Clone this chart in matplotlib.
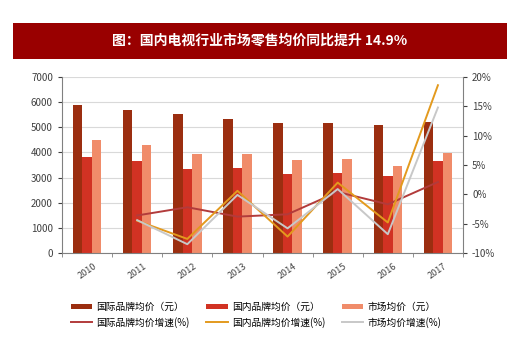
import numpy as np
import matplotlib
matplotlib.use('Agg')
import matplotlib.pyplot as plt
from matplotlib.patches import Rectangle
from matplotlib.ticker import FuncFormatter

plt.rcParams['font.family'] = ['Noto Sans CJK SC', 'DejaVu Sans']

# data
years = ['2010', '2011', '2012', '2013', '2014', '2015', '2016', '2017']
intl_price = [5880, 5680, 5540, 5320, 5170, 5190, 5090, 5220]
dom_price = [3800, 3640, 3360, 3390, 3150, 3200, 3070, 3640]
mkt_price = [4500, 4310, 3950, 3920, 3710, 3730, 3480, 3990]
# growth (%), from 2011 on
growth_years = years[1:]
intl_growth = [-3.6, -2.2, -3.8, -3.4, 0.4, -1.7, 2.1]
dom_growth = [-4.5, -7.6, 0.6, -7.2, 2.0, -4.8, 18.6]
mkt_growth = [-4.4, -8.5, -0.1, -5.8, 0.9, -6.8, 14.8]

c_intl = '#9B2E10'
c_dom = '#D13223'
c_mkt = '#F08C6A'
c_intl_g = '#B23B3B'
c_dom_g = '#E39A1E'
c_mkt_g = '#C8C8C8'

fig = plt.figure(figsize=(5.2, 3.51), dpi=100)

# title banner
fig.patches.append(Rectangle((13 / 520, 1 - 59 / 351), 494 / 520, 36 / 351,
                             transform=fig.transFigure, facecolor='#990000',
                             edgecolor='none'))
fig.text(0.5, 1 - 41 / 351, '图：国内电视行业市场零售均价同比提升 14.9%',
         color='white', fontsize=10, fontweight='bold', ha='center', va='center')

ax = fig.add_axes([62 / 520, 1 - 253 / 351, 401 / 520, 176 / 351])
x = np.arange(len(years))
w = 0.19
ax.bar(x - w, intl_price, w, color=c_intl, label='国际品牌均价（元）', zorder=2)
ax.bar(x, dom_price, w, color=c_dom, label='国内品牌均价（元）', zorder=2)
ax.bar(x + w, mkt_price, w, color=c_mkt, label='市场均价（元）', zorder=2)

ax.set_xlim(-0.5, len(years) - 0.5)
ax.set_ylim(0, 7000)
ax.set_yticks(range(0, 7001, 1000))
ax.grid(axis='y', color='#D9D9D9', linewidth=0.8, zorder=0)
ax.set_axisbelow(True)
ax.set_xticks(x)
ax.set_xticklabels(years, rotation=35, fontsize=6.5, color='#404040')
ax.set_xticks(np.arange(-0.5, len(years)), minor=True)
ax.tick_params(axis='x', which='major', length=0, pad=6)
ax.tick_params(axis='x', which='minor', length=3, color='#808080')
ax.tick_params(axis='y', labelsize=7, colors='#404040', length=3)
for s in ['top', 'right']:
    ax.spines[s].set_visible(False)
ax.spines['left'].set_color('#808080')
ax.spines['bottom'].set_color('#808080')

ax2 = ax.twinx()
gx = x[1:]
ax2.plot(gx, intl_growth, color=c_intl_g, linewidth=1.4, label='国际品牌均价增速(%)')
ax2.plot(gx, dom_growth, color=c_dom_g, linewidth=1.4, label='国内品牌均价增速(%)')
ax2.plot(gx, mkt_growth, color=c_mkt_g, linewidth=1.4, label='市场均价增速(%)')
ax2.set_ylim(-10, 20)
ax2.set_yticks(range(-10, 21, 5))
ax2.yaxis.set_major_formatter(FuncFormatter(lambda v, p: f'{int(v)}%'))
ax2.tick_params(axis='y', labelsize=7, colors='#404040', length=3)
for s in ['top', 'left', 'bottom']:
    ax2.spines[s].set_visible(False)
ax2.spines['right'].set_color('#808080')

h1, l1 = ax.get_legend_handles_labels()
h2, l2 = ax2.get_legend_handles_labels()
handles = [h1[0], h2[0], h1[1], h2[1], h1[2], h2[2]]
labels = [l1[0], l2[0], l1[1], l2[1], l1[2], l2[2]]
fig.legend(handles, labels, ncol=3, loc='upper left', bbox_to_anchor=(62 / 520, 1 - 293 / 351),
           frameon=False, fontsize=7, handlelength=2.2, handleheight=0.5,
           columnspacing=1.75, labelspacing=0.5, handletextpad=0.4)

fig.savefig('out.png', dpi=100)
